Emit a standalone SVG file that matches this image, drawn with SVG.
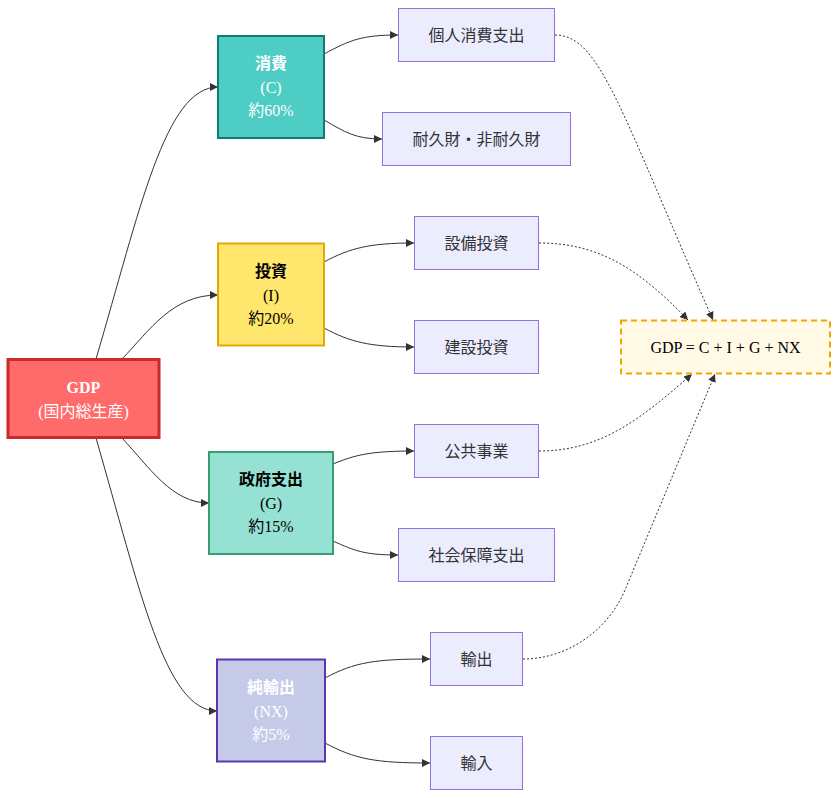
<svg xmlns="http://www.w3.org/2000/svg" width="839" height="798" viewBox="0 0 839 798">
<style>
text{font-family:"Liberation Serif","Noto Sans CJK JP",serif;font-size:16px;text-anchor:middle}
.leaf rect{fill:#ececff;stroke:#9370db;stroke-width:1}
.leaf text{fill:#333}
.b{font-weight:bold}
.e{fill:none;stroke:#333;stroke-width:1}
.d{fill:none;stroke:#333;stroke-width:1;stroke-dasharray:2 2}
.w{fill:#fff}
.k{fill:#000}
</style>
<defs>
<marker id="ah" viewBox="0 0 10 10" refX="10" refY="5" markerWidth="8" markerHeight="8" markerUnits="userSpaceOnUse" orient="auto">
<path d="M0,0 L10,5 L0,10 z" fill="#333"/>
</marker>
</defs>
<rect width="839" height="798" fill="#fff"/>
<g id="edges">
<path class="e" marker-end="url(#ah)" d="M96,359 C140,210 165,87 218,87"/>
<path class="e" marker-end="url(#ah)" d="M122,359 C150,330 172,295 218,295"/>
<path class="e" marker-end="url(#ah)" d="M122,438 C150,468 172,503 209,503"/>
<path class="e" marker-end="url(#ah)" d="M96,438 C140,590 165,711 217,711"/>
<path class="e" marker-end="url(#ah)" d="M324,54 C350,40 362,35 398,35"/>
<path class="e" marker-end="url(#ah)" d="M324,120 C345,132 355,139 382,139"/>
<path class="e" marker-end="url(#ah)" d="M324,262 C350,248 370,243 414,243"/>
<path class="e" marker-end="url(#ah)" d="M324,328 C350,342 370,347 414,347"/>
<path class="e" marker-end="url(#ah)" d="M333,464 C355,455 370,451 414,451"/>
<path class="e" marker-end="url(#ah)" d="M333,541 C355,551 365,555 398,555"/>
<path class="e" marker-end="url(#ah)" d="M325,678 C355,662 375,659 430,659"/>
<path class="e" marker-end="url(#ah)" d="M325,743 C355,759 375,763 430,763"/>
<path class="d" marker-end="url(#ah)" d="M555,35 C600,35 620,110 713,320"/>
<path class="d" marker-end="url(#ah)" d="M539,243 C600,243 640,270 688,320"/>
<path class="d" marker-end="url(#ah)" d="M539,451 C600,451 640,420 692,374"/>
<path class="d" marker-end="url(#ah)" d="M523,659 C568,659 608,630 625,590 L715,374"/>
</g>
<g id="gdp">
<rect x="8" y="359.5" width="151" height="78" fill="#ff6b6b" stroke="#c92a2a" stroke-width="3"/>
<text x="83.5" y="393" class="w b">GDP</text>
<text x="83.5" y="417" class="w">(国内総生産)</text>
</g>
<g id="c">
<rect x="218" y="36" width="106" height="102" fill="#4ecdc4" stroke="#0f7b76" stroke-width="2"/>
<text x="271" y="69" class="w b">消費</text>
<text x="271" y="93" class="w">(C)</text>
<text x="271" y="116" class="w">約60%</text>
</g>
<g id="i">
<rect x="218" y="243.5" width="106" height="102" fill="#ffe66d" stroke="#e6a800" stroke-width="2"/>
<text x="271" y="277" class="k b">投資</text>
<text x="271" y="301" class="k">(I)</text>
<text x="271" y="324" class="k">約20%</text>
</g>
<g id="g">
<rect x="209" y="452" width="124" height="102" fill="#95e1d3" stroke="#3a9d72" stroke-width="2"/>
<text x="271" y="485" class="k b">政府支出</text>
<text x="271" y="509" class="k">(G)</text>
<text x="271" y="532" class="k">約15%</text>
</g>
<g id="nx">
<rect x="217" y="659.5" width="108" height="102" fill="#c5cae9" stroke="#5e35b1" stroke-width="2"/>
<text x="271" y="693" class="w b">純輸出</text>
<text x="271" y="717" class="w">(NX)</text>
<text x="271" y="740" class="w">約5%</text>
</g>
<g id="c1" class="leaf"><rect x="398.5" y="8.5" width="156" height="53"/><text x="476.5" y="41">個人消費支出</text></g>
<g id="c2" class="leaf"><rect x="382.5" y="112.5" width="188" height="53"/><text x="476.5" y="145">耐久財・非耐久財</text></g>
<g id="i1" class="leaf"><rect x="414.5" y="216.5" width="124" height="53"/><text x="476.5" y="249">設備投資</text></g>
<g id="i2" class="leaf"><rect x="414.5" y="320.5" width="124" height="53"/><text x="476.5" y="353">建設投資</text></g>
<g id="g1" class="leaf"><rect x="414.5" y="424.5" width="124" height="53"/><text x="476.5" y="457">公共事業</text></g>
<g id="g2" class="leaf"><rect x="398.5" y="528.5" width="156" height="53"/><text x="476.5" y="561">社会保障支出</text></g>
<g id="x1" class="leaf"><rect x="430.5" y="632.5" width="92" height="53"/><text x="476.5" y="665">輸出</text></g>
<g id="x2" class="leaf"><rect x="430.5" y="736.5" width="92" height="53"/><text x="476.5" y="769">輸入</text></g>
<g id="formula">
<rect x="621" y="320.5" width="209" height="53" fill="#fff9e6" stroke="#f0a500" stroke-width="2" stroke-dasharray="6 4"/>
<text x="725.5" y="353" fill="#000">GDP = C + I + G + NX</text>
</g>
</svg>
